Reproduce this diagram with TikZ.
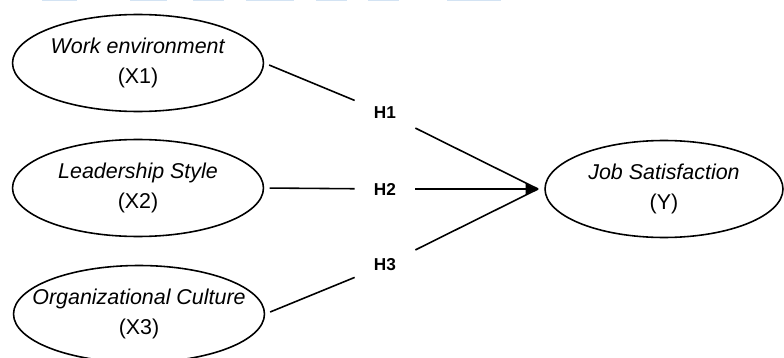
\documentclass[tikz,border=0pt]{standalone}
\usepackage{fontspec}
\setmainfont{Liberation Sans}
\usetikzlibrary{arrows.meta,positioning,shapes.geometric}
\definecolor{linkbar}{HTML}{D3E3F3}

\begin{document}
\begin{tikzpicture}[x=0.02cm,y=-0.02cm,
  construct/.style={draw,ellipse,line width=0.9pt,minimum width=5.02cm,minimum height=1.94cm,
    inner xsep=-12pt,inner ysep=0pt,align=center,font=\fontsize{12.2}{17}\selectfont},
  hyp/.style={font=\fontsize{9.8}{11}\selectfont\bfseries,minimum width=1.2cm,minimum height=0.6cm,inner sep=0pt},
  link/.style={line width=0.9pt}]
  \useasboundingbox (0,0) rectangle (784,358);
  % cropped underlines along the top edge
  \foreach \a/\b in {42/77,130/167,193/224,246/294,316/347,368/399,447/501}
    \fill[linkbar] (\a,0) rectangle (\b,1.2);

  % Independent variables
  \node[construct] (x1) at (138,63) {\textit{Work environment}\\(X1)};
  \node[construct] (x2) at (138,188) {\textit{Leadership Style}\\(X2)};
  \node[construct] (x3) at (139,314) {\textit{Organizational Culture}\\(X3)};

  % Dependent variable
  \node[construct,minimum width=4.76cm] (y) at (664,189) {\textit{Job Satisfaction}\\(Y)};

  % Hypotheses
  \node[hyp] (h1) at (385,113) {H1};
  \node[hyp] (h2) at (385,189) {H2};
  \node[hyp] (h3) at (385,265) {H3};
  \coordinate (tip) at (538,189);

  \draw[link,shorten <=3pt] (x1.east) -- (h1);
  \draw[link,shorten <=3pt] (x2.east) -- (h2);
  \draw[link,shorten <=3pt] (x3.east) -- (h3);
  \draw[link] (h1) -- (tip);
  \draw[link,-{Latex[length=7pt,width=7pt]}] (h2) -- (tip);
  \draw[link] (h3) -- (tip);
\end{tikzpicture}
\end{document}
